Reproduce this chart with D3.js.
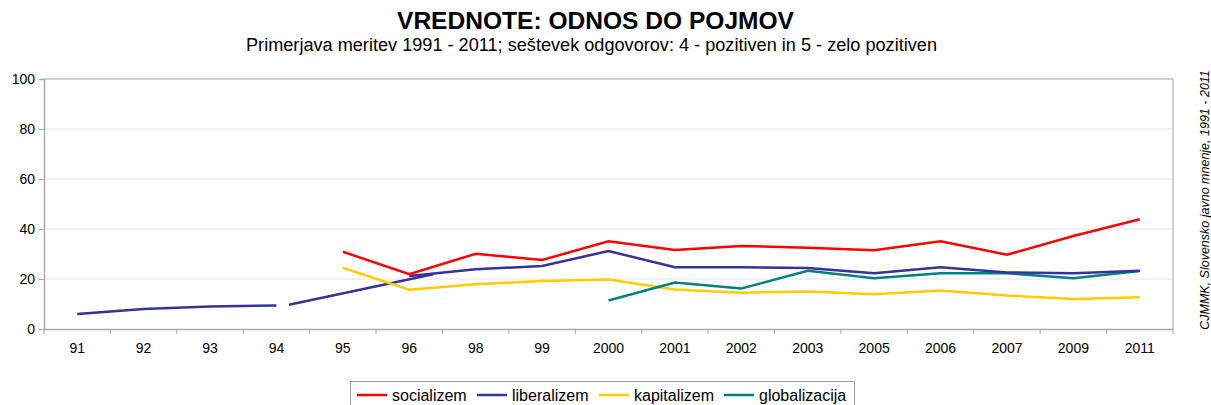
<!DOCTYPE html>
<html><head><meta charset="utf-8">
<script src="https://cdn.jsdelivr.net/npm/d3@7"></script>
<style>body{margin:0;background:#fff}svg{display:block;font-family:"Liberation Sans",Arial,sans-serif}</style>
</head><body><svg id="c" width="1211" height="405"></svg>
<script>
const categories = ["91","92","93","94","95","96","98","99","2000","2001","2002","2003","2005","2006","2007","2009","2011"];
const socializem   = [null,null,null,null,30.9,21.9,30.1,27.6,35.1,31.6,33.2,32.5,31.5,35.1,29.7,37.2,43.9];
const liberalizem  = [6.0,8.0,9.0,9.4,null,21.2,23.9,25.2,31.2,24.7,24.7,24.4,22.3,24.7,22.6,22.3,23.3];
const kapitalizem  = [null,null,null,null,24.5,15.7,17.9,19.2,19.8,15.8,14.5,15.0,13.9,15.4,13.4,12.0,12.7];
const globalizacija= [null,null,null,null,null,null,null,null,11.4,18.6,16.2,23.3,20.3,22.3,22.3,20.3,23.2];
// extra liberalizem connector drawn in the original between 94 and 96 (category index, value)
const liberalizemBridgeIdx = [3.19, 5.36];
const liberalizemBridgeVal = [9.7, 21.9];
const yTicks = [0,20,40,60,80,100];
const seriesNames = ["socializem","liberalizem","kapitalizem","globalizacija"];
const seriesColors = ["#FF0000","#333399","#FFCC00","#008080"];
const title = "VREDNOTE: ODNOS DO POJMOV";
const subtitle = "Primerjava meritev 1991 - 2011; seštevek odgovorov: 4 - pozitiven in 5 - zelo pozitiven";
const source = "CJMMK, Slovensko javno mnenje, 1991 - 2011";

const svg = d3.select("#c");
const L = 44, R = 1173, T = 79, B = 329;
const x = d3.scaleBand().domain(categories).range([L, R]);
const xi = d3.scaleLinear().domain([-0.5, categories.length - 0.5]).range([L, R]);
const y = d3.scaleLinear().domain([0, 100]).range([B, T]);

svg.append("text").attr("x", 397).attr("y", 29)
  .attr("font-weight","bold").attr("font-size", 24.5)
  .attr("textLength", 397).attr("lengthAdjust", "spacingAndGlyphs").text(title);
svg.append("text").attr("x", 246).attr("y", 51)
  .attr("font-size", 18)
  .attr("textLength", 691).attr("lengthAdjust", "spacingAndGlyphs").text(subtitle);

// gridlines
svg.append("g").selectAll("line").data(yTicks.filter(d => d > 0 && d < 100)).join("line")
  .attr("x1", L).attr("x2", R).attr("y1", d => y(d)).attr("y2", d => y(d))
  .attr("stroke", "#e3e3e3").attr("stroke-width", 1);
// plot border top/right
svg.append("line").attr("x1", L).attr("x2", R).attr("y1", y(100)).attr("y2", y(100)).attr("stroke","#a0a0a0").attr("stroke-width",1);
svg.append("line").attr("x1", R).attr("x2", R).attr("y1", T).attr("y2", B).attr("stroke","#a0a0a0").attr("stroke-width",1);

// axes
const yAxis = svg.append("g").attr("transform", `translate(${L},0)`)
  .call(d3.axisLeft(y).tickValues(yTicks).tickSize(5).tickPadding(4));
const xAxis = svg.append("g").attr("transform", `translate(0,${B})`)
  .call(d3.axisBottom(x).tickSize(0).tickPadding(14));
[yAxis, xAxis].forEach(g => {
  g.select(".domain").attr("stroke", "#a8a8a8").attr("stroke-width", 1.5);
  g.selectAll(".tick line").attr("stroke", "#a8a8a8");
  g.selectAll("text").attr("font-size", 14).attr("fill", "#000")
    .attr("font-family", '"Liberation Sans",Arial,sans-serif');
});
// x ticks at band boundaries
svg.append("g").selectAll("line").data(d3.range(categories.length + 1)).join("line")
  .attr("x1", d => xi(d - 0.5)).attr("x2", d => xi(d - 0.5))
  .attr("y1", B).attr("y2", B + 5).attr("stroke", "#a8a8a8");

const line = d3.line().defined(d => d != null).x((d, i) => x(categories[i]) + x.bandwidth()/2).y(d => y(d));
const allSeries = [socializem, liberalizem, kapitalizem, globalizacija];
const order = [2, 3, 1, 0];
// bridge
svg.append("path").datum(liberalizemBridgeIdx.map((v,i)=>[v, liberalizemBridgeVal[i]]))
  .attr("d", d3.line().x(d => xi(d[0])).y(d => y(d[1])))
  .attr("fill","none").attr("stroke", seriesColors[1]).attr("stroke-width", 2.5);
order.forEach(k => {
  svg.append("path").datum(allSeries[k]).attr("d", line)
    .attr("fill", "none").attr("stroke", seriesColors[k]).attr("stroke-width", 2.5)
    .attr("stroke-linejoin","miter");
});

// legend
const lg = svg.append("g");
lg.append("rect").attr("x", 350.5).attr("y", 381.5).attr("width", 504).attr("height", 30)
  .attr("fill", "#fff").attr("stroke", "#a0a0a0");
const lx = [357, 477, 599, 724];
seriesNames.forEach((n, i) => {
  lg.append("line").attr("x1", lx[i]).attr("x2", lx[i] + 30).attr("y1", 395).attr("y2", 395)
    .attr("stroke", seriesColors[i]).attr("stroke-width", 2.5);
  lg.append("text").attr("x", lx[i] + 35).attr("y", 400.5).attr("font-size", 16).text(n);
});

// source
svg.append("text").attr("transform", "translate(1209,200) rotate(-90)").attr("text-anchor","middle")
  .attr("font-style","italic").attr("font-size", 12.5).text(source);
</script></body></html>
